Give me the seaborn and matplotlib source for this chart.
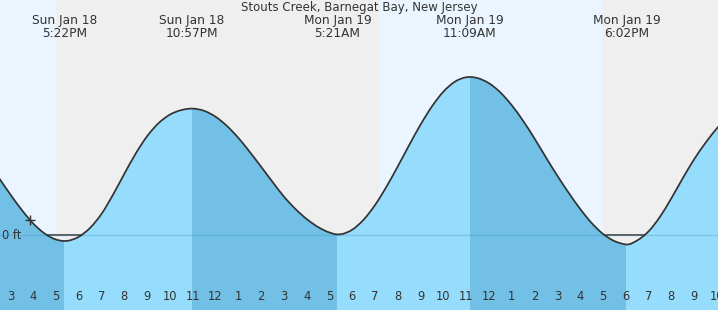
import numpy as np
import matplotlib
matplotlib.use("Agg")
import matplotlib.pyplot as plt
from matplotlib.path import Path
from matplotlib.patches import PathPatch
import seaborn as sns

title = "Stouts Creek, Barnegat Bay, New Jersey"

# hours since Sun Jan 18 00:00, predicted water level (ft)
hours = [14.5, 15.0, 15.5, 16.0, 16.5, 17.0, 17.37, 17.5, 18.0, 18.5, 19.0, 19.5,
         20.0, 20.5, 21.0, 21.5, 22.0, 22.5, 22.95, 23.5, 24.0, 24.5, 25.0, 25.5,
         26.0, 26.5, 27.0, 27.5, 28.0, 28.5, 29.0, 29.35, 29.5, 30.0, 30.5, 31.0,
         31.5, 32.0, 32.5, 33.0, 33.5, 34.0, 34.5, 35.0, 35.15, 35.5, 36.0, 36.5,
         37.0, 37.5, 38.0, 38.5, 39.0, 39.5, 40.0, 40.5, 41.0, 41.5, 42.0, 42.03,
         42.5, 43.0, 43.5, 44.0, 44.5, 45.0, 45.5, 46.0, 46.1]
level_ft = [0.57, 0.405, 0.25, 0.115, 0.015, -0.045, -0.06, -0.058, -0.018, 0.072, 0.212, 0.402,
            0.612, 0.815, 0.988, 1.118, 1.204, 1.249, 1.264, 1.242, 1.183, 1.091, 0.972, 0.832,
            0.683, 0.532, 0.385, 0.262, 0.160, 0.080, 0.025, 0.006, 0.008, 0.053, 0.153, 0.299,
            0.482, 0.686, 0.899, 1.104, 1.286, 1.433, 1.532, 1.577, 1.58, 1.569, 1.518, 1.426,
            1.298, 1.142, 0.965, 0.777, 0.594, 0.422, 0.262, 0.122, 0.012, -0.06, -0.094, -0.095,
            -0.055, 0.035, 0.18, 0.365, 0.565, 0.755, 0.92, 1.065, 1.09]

event_hours = [17.367, 22.95, 29.35, 35.15, 42.033]
event_days = ["Sun Jan 18", "Sun Jan 18", "Mon Jan 19", "Mon Jan 19", "Mon Jan 19"]
event_times = ["5:22PM", "10:57PM", "5:21AM", "11:09AM", "6:02PM"]

day_starts = [14.0, 31.22]
day_ends = [17.0, 41.0]
night_starts = [17.0, 41.0]
night_ends = [31.22, 47.0]

tick_hours = list(range(15, 47))
tick_labels = ["3", "4", "5", "6", "7", "8", "9", "10", "11", "12",
               "1", "2", "3", "4", "5", "6", "7", "8", "9", "10", "11", "12",
               "1", "2", "3", "4", "5", "6", "7", "8", "9", "10"]
midnight_hour = 24

now_hour = 15.86
now_level = 0.155

# ---------------------------------------------------------------
sns.set_style("white")
plt.rcParams["font.family"] = ["DejaVu Sans"]

t = np.array(hours, dtype=float)
y = np.array(level_ft, dtype=float)
YMIN, YMAX = -0.75, 2.35
XMIN, XMAX = 14.543, 46.053

DAY = "#eaf5ff"
NIGHT = "#efefef"
LIGHT = "#96dcfc"
DARK = "#72c0e6"
TXT = "#333333"

fig = plt.figure(figsize=(7.18, 3.10), dpi=100)
ax = fig.add_axes([0, 0, 1, 1])
ax.set_xlim(XMIN, XMAX)
ax.set_ylim(YMIN, YMAX)
for s in ax.spines.values():
    s.set_visible(False)

for a, b in zip(day_starts, day_ends):
    ax.axvspan(a, b, color=DAY, lw=0, zorder=0)
for a, b in zip(night_starts, night_ends):
    ax.axvspan(a, b, color=NIGHT, lw=0, zorder=0)

# smooth (cubic Hermite -> Bezier) rendering through the read points
n = len(t)
m = np.zeros(n)
for i in range(1, n - 1):
    h0, h1 = t[i] - t[i - 1], t[i + 1] - t[i]
    d0, d1 = (y[i] - y[i - 1]) / h0, (y[i + 1] - y[i]) / h1
    m[i] = (d1 * h0 + d0 * h1) / (h0 + h1)
m[0] = (y[1] - y[0]) / (t[1] - t[0])
m[-1] = (y[-1] - y[-2]) / (t[-1] - t[-2])

verts = [(t[0], y[0])]
codes = [Path.MOVETO]
for i in range(n - 1):
    h = t[i + 1] - t[i]
    verts += [(t[i] + h / 3, y[i] + m[i] * h / 3),
              (t[i + 1] - h / 3, y[i + 1] - m[i + 1] * h / 3),
              (t[i + 1], y[i + 1])]
    codes += [Path.CURVE4] * 3
curve_path = Path(verts, codes)

fill_verts = [(t[0], YMIN)] + verts + [(t[-1], YMIN), (t[0], YMIN)]
fill_codes = [Path.MOVETO, Path.LINETO] + codes[1:] + [Path.LINETO, Path.CLOSEPOLY]
fill_patch = PathPatch(Path(fill_verts, fill_codes), facecolor=LIGHT, lw=0, zorder=1)
ax.add_patch(fill_patch)

# falling-tide bands (high -> low), clipped under the curve
ext = [i for i in range(1, n - 1)
       if (y[i] >= y[i - 1] and y[i] > y[i + 1]) or (y[i] <= y[i - 1] and y[i] < y[i + 1])]
bounds = [0] + ext + [n - 1]
for a, b in zip(bounds[:-1], bounds[1:]):
    if y[b] < y[a]:
        sp = ax.axvspan(t[a], t[b], color=DARK, lw=0, zorder=1.1)
        sp.set_clip_path(fill_patch)

# zero line: dark where the water is below it, translucent over the water
ax.axhline(0, color=TXT, lw=1.1, zorder=0.5)
ax.axhline(0, color="#3a90c0", alpha=0.3, lw=1.0, zorder=1.5)

ax.add_patch(PathPatch(curve_path, facecolor="none", edgecolor=TXT, lw=1.25,
                       zorder=3, capstyle="round", joinstyle="round"))

sns.scatterplot(x=[now_hour], y=[now_level], marker="+", s=55, color=TXT,
                linewidth=1.0, ax=ax, zorder=4)

# ticks
ax.set_yticks([])
ax.set_xticks(tick_hours)
ax.set_xticklabels([])
ax.tick_params(axis="x", direction="in", length=5.8, width=0.8, color=TXT,
               bottom=True, top=False)
for tk, h in zip(ax.xaxis.get_major_ticks(), tick_hours):
    if h == midnight_hour:
        tk.tick1line.set_markeredgewidth(2.4)
        tk.tick1line.set_color("#222222")

xtr = ax.get_xaxis_transform()
for h, lab in zip(tick_hours, tick_labels):
    ax.text(h, 0.0323, lab, transform=xtr, ha="center", va="baseline",
            fontsize=8.3, color=TXT, zorder=5)

for h, dd, tt in zip(event_hours, event_days, event_times):
    ax.text(h, 0.9226, dd, transform=xtr, ha="center", va="baseline",
            fontsize=8.7, color=TXT, zorder=5)
    ax.text(h, 0.8816, tt, transform=xtr, ha="center", va="baseline",
            fontsize=8.7, color=TXT, zorder=5)

ax.text(0.5, 0.9645, title, transform=ax.transAxes, ha="center", va="baseline",
        fontsize=8.5, color=TXT, zorder=5)

ax.text(0.003, -0.04, "0 ft", transform=ax.get_yaxis_transform(), ha="left",
        va="baseline", fontsize=8.3, color=TXT, zorder=5)

fig.savefig("out.png", dpi=100)
